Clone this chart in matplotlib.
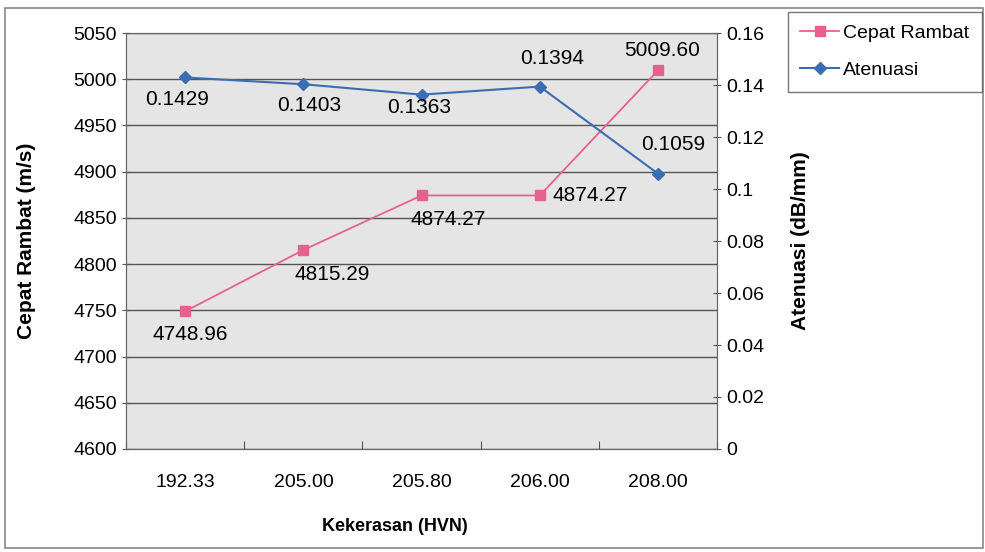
import matplotlib.pyplot as plt
from matplotlib.patches import Rectangle

plt.rcParams['font.family'] = ['Liberation Sans', 'DejaVu Sans']

kekerasan = ['192.33', '205.00', '205.80', '206.00', '208.00']
cepat_rambat = [4748.96, 4815.29, 4874.27, 4874.27, 5009.60]
atenuasi = [0.1429, 0.1403, 0.1363, 0.1394, 0.1059]

pink = '#e5628c'
blue = '#3b6db3'

fig = plt.figure(figsize=(9.85, 5.52), dpi=100)
fig.patches.append(Rectangle((0.005, 0.007), 0.993, 0.979, transform=fig.transFigure,
                             fill=False, edgecolor='#888888', linewidth=1.2))

ax = fig.add_axes([0.128, 0.1866, 0.6, 0.7536])
ax2 = ax.twinx()

x = [i + 0.5 for i in range(len(kekerasan))]

ax.set_facecolor('#e5e5e5')
ax.set_xlim(0, 5)
ax.set_ylim(4600, 5050)
ax.set_yticks(range(4600, 5051, 50))
ax.yaxis.grid(True, color='#555555', linewidth=1.0)
ax.set_axisbelow(True)
ax.set_xticks([0, 1, 2, 3, 4, 5], minor=False)
ax.set_xticklabels([])
ax.set_xticks(x, minor=True)
ax.set_xticklabels(kekerasan, minor=True, fontsize=14)
ax.tick_params(axis='x', which='minor', length=0, pad=18)
ax.tick_params(axis='x', which='major', length=6, direction='in', color='#555555')
ax.tick_params(axis='y', length=6, direction='inout', labelsize=14, color='#555555')
for s in ax.spines.values():
    s.set_color('#666666')

ax2.set_ylim(0, 0.16)
ax2.set_yticks([0, 0.02, 0.04, 0.06, 0.08, 0.1, 0.12, 0.14, 0.16])
ax2.set_yticklabels(['0', '0.02', '0.04', '0.06', '0.08', '0.1', '0.12', '0.14', '0.16'])
ax2.tick_params(axis='y', length=6, direction='inout', labelsize=14, color='#555555')
for s in ax2.spines.values():
    s.set_color('#666666')

l1, = ax.plot(x, cepat_rambat, color=pink, marker='s', markersize=7, linewidth=1.3,
              label='Cepat Rambat')
l2, = ax2.plot(x, atenuasi, color=blue, marker='D', markersize=6, linewidth=1.5,
               label='Atenuasi')

# value labels (offsets in points)
pink_off = [(4, -17), (21, -18), (19, -17), (36, 0), (3, 14)]
for xi, v, (dx, dy) in zip(x, cepat_rambat, pink_off):
    ax.annotate(f'{v:.2f}', (xi, v), xytext=(dx, dy), textcoords='offset points',
                ha='center', va='center', fontsize=15)
blue_off = [(-6, -16), (4, -15), (-2, -9), (9, 20), (11, 21)]
for xi, v, (dx, dy) in zip(x, atenuasi, blue_off):
    ax2.annotate(f'{v:.4f}', (xi, v), xytext=(dx, dy), textcoords='offset points',
                 ha='center', va='center', fontsize=15)

ax.set_xlabel('Kekerasan (HVN)', fontsize=13, fontweight='bold')
ax.xaxis.set_label_coords(0.455, -0.165)
ax.set_ylabel('Cepat Rambat (m/s)', fontsize=15, fontweight='bold')
ax.yaxis.set_label_coords(-0.152, 0.5)
ax2.set_ylabel('Atenuasi (dB/mm)', fontsize=15, fontweight='bold')
ax2.yaxis.set_label_coords(1.125, 0.5)

leg = fig.legend([l1, l2], ['Cepat Rambat', 'Atenuasi'], loc='upper right',
                 bbox_to_anchor=(982 / 985, 1 - 12 / 552), fontsize=14, frameon=True,
                 fancybox=False, edgecolor='#555555', handlelength=2.0,
                 borderpad=0.65, labelspacing=1.0, handletextpad=0.2, borderaxespad=0)
leg.get_frame().set_linewidth(1.0)

fig.savefig('out.png', dpi=100)
